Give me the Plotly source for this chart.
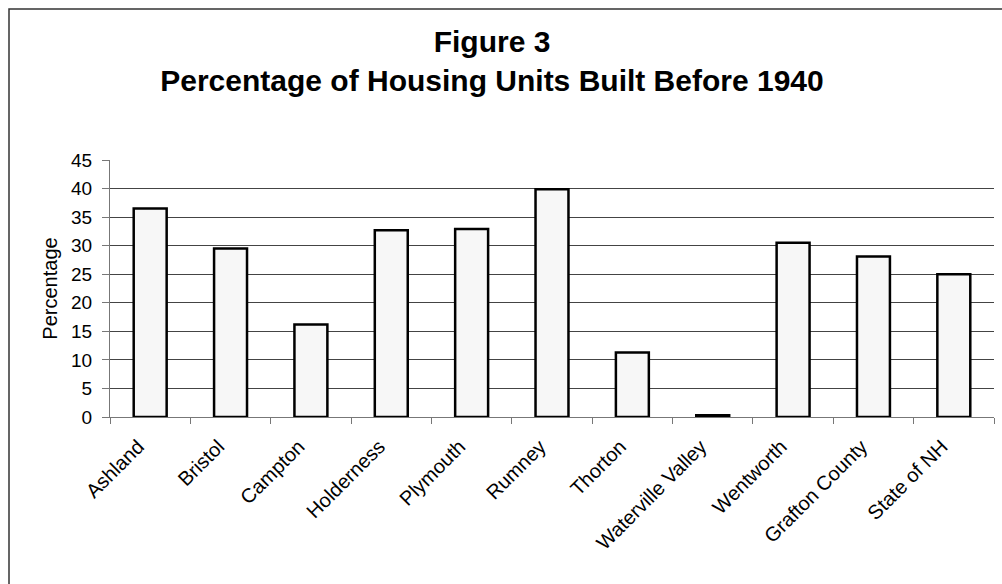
import plotly.graph_objects as go

categories = ["Ashland", "Bristol", "Campton", "Holderness", "Plymouth", "Rumney",
              "Thorton", "Waterville Valley", "Wentworth", "Grafton County", "State of NH"]
values = [36.5, 29.5, 16.2, 32.7, 32.9, 39.9, 11.3, 0.3, 30.5, 28.1, 25.0]
y_ticks = [0, 5, 10, 15, 20, 25, 30, 35, 40, 45]

W, H = 1002, 584
L, R, T, B = 110, 8, 160, 167

fig = go.Figure(go.Bar(
    x=categories, y=values,
    marker=dict(color="#f7f7f7", line=dict(color="black", width=2.5)),
    width=0.41,
))

fig.update_layout(
    width=W, height=H,
    margin=dict(l=L, r=R, t=T, b=B),
    paper_bgcolor="white", plot_bgcolor="white",
    font=dict(family="Liberation Sans, Arial", color="black", size=20),
    showlegend=False,
    title=dict(
        text="<b>Figure 3<br>Percentage of Housing Units Built Before 1940</b>",
        x=492 / W, xanchor="center", xref="container",
        y=1 - 52 / H, yanchor="middle",
        font=dict(size=30, family="Liberation Sans, Arial"),
    ),
    xaxis=dict(
        tickangle=-45, tickson="boundaries", ticks="outside", ticklen=6,
        tickcolor="#777", showline=True, linecolor="#777", linewidth=1,
        showgrid=False, tickfont=dict(size=20), ticklabelstandoff=9,
        ticklabelshift=-12,
    ),
    yaxis=dict(
        range=[0, 45], tickvals=y_ticks, ticks="outside", ticklen=7,
        tickcolor="#777", showline=True, linecolor="#777", linewidth=1,
        showgrid=True, gridcolor="#444", gridwidth=1, zeroline=False,
        tickfont=dict(size=19), ticklabelstandoff=6,
        title=dict(text="Percentage", font=dict(size=20), standoff=8),
    ),
    shapes=[dict(
        type="rect", xref="paper", yref="paper",
        x0=(9 - L) / (W - L - R), x1=(W + 20 - L) / (W - L - R),
        y0=-(H + 20 - (H - B)) / (H - T - B), y1=(H - 9 - B) / (H - T - B),
        line=dict(color="#333", width=1.5), fillcolor="rgba(0,0,0,0)",
        layer="below",
    )],
)

fig.write_html("out.html")
